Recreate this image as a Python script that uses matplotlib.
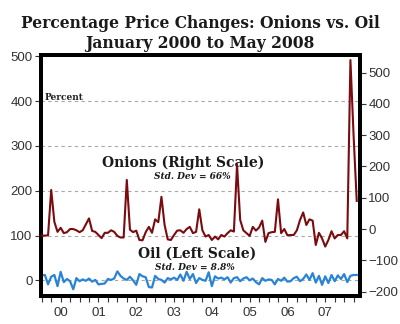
import numpy as np
import matplotlib
matplotlib.use("Agg")
import matplotlib.pyplot as plt
from matplotlib.ticker import FixedLocator, FuncFormatter

# monthly % changes, Jan 2000 .. May 2008
onions = [-21, -21, -20, 125, 23, -9, 4, -13, -10, 0, 0, -4,
          -10, -4, 15, 34, -6, -9, -19, -29, -12, -12, -4, -9,
          -22, -27, -27, 157, -2, -10, -5, -35, -36, -10, 7, -12,
          31, 22, 103, 13, -33, -35, -19, -5, -4, -12, 0, 7,
          -13, -9, 63, -4, -24, -19, -35, -24, -33, -19, -24, -13,
          -4, -8, 205, 29, -4, -13, -22, 7, -5, 5, 27, -41,
          -13, -10, -9, 95, -13, 0, -20, -19, -19, -4, 29, 53,
          13, 31, 27, -51, -12, -30, -56, -35, -7, -30, -19, -19,
          -7, -30, 540, 300, 90]

oil = [11, 12, -9, 8, 12, -13, 19, -4, 3, -2, -20, 5,
       -2, 2, -1, 4, -3, 1, -9, -8, -7, 3, 1, 4,
       20, 10, 4, 1, 8, 0, -10, 14, 9, 7, -15, -16,
       10, 3, 1, -5, 5, 2, 6, 1, 13, -1, 19, 3,
       14, -6, 5, 1, -1, 18, -13, 9, 4, 6, 2, 7,
       -5, 5, 7, -2, 4, 7, 0, 4, -4, -9, 5, -1,
       2, 1, -9, 3, -1, 6, -3, -2, 5, 8, -2, 3,
       13, 1, 16, -5, 10, -10, 9, -6, 12, -2, 11, 3,
       14, -4, 10, 12, 12]

years = list(range(2000, 2008))
year_labels = ["00", "01", "02", "03", "04", "05", "06", "07"]

x = 2000 + np.arange(len(onions)) / 12.0

serif = "DejaVu Serif"
sans = "Liberation Sans"

fig = plt.figure(figsize=(4.0, 3.24), dpi=100)
ax = fig.add_axes([0.1025, 0.0864, 0.7975, 0.7436])
ax2 = ax.twinx()

ax.set_xlim(1999.98, 2008.42)
ax.set_ylim(-35, 503)
ax2.set_ylim(-214, 556)

for g in [0, 100, 200, 300, 400]:
    ax.axhline(g, color="#a8a8a8", lw=0.8, ls=(0, (3, 3)), zorder=0)

ax.plot(x, oil, color="#2a84d6", lw=1.6, zorder=3)
ax2.plot(x, onions, color="#7a0c10", lw=1.5, zorder=3)

ax.set_yticks([0, 100, 200, 300, 400, 500])
ax2.set_yticks([-200, -100, 0, 100, 200, 300, 400, 500])

ax.xaxis.set_major_locator(FixedLocator(years + [2008]))
ax.xaxis.set_major_formatter(FuncFormatter(lambda v, p: ""))
quarters = [y + q / 4 for y in range(2000, 2009) for q in range(1, 4)]
quarters = [q for q in quarters if q < 2008.42]
ax.xaxis.set_minor_locator(FixedLocator(quarters))
ax.xaxis.set_minor_formatter(FuncFormatter(
    lambda v, p: year_labels[int(v) - 2000] if abs(v % 1 - 0.5) < 1e-6 and int(v) - 2000 < len(year_labels) else ""))

for a in (ax, ax2):
    for s in a.spines.values():
        s.set_linewidth(2.8)
        s.set_color("black")
ax.tick_params(axis="x", which="both", direction="out", length=4, width=0.8,
               labelsize=9.5, pad=4, colors="#333333")
ax.tick_params(axis="y", direction="out", length=4, width=0.8, labelsize=9.5,
               pad=2, colors="#333333")
ax2.tick_params(axis="y", direction="out", length=4, width=0.8, labelsize=9.5,
                pad=2, colors="#333333")
for lab in ax.get_xticklabels(minor=True) + ax.get_yticklabels() + ax2.get_yticklabels():
    lab.set_fontfamily(sans)

fig.text(0.5, 0.928, "Percentage Price Changes: Onions vs. Oil", ha="center", va="center",
         fontsize=11.2, fontweight="bold", family=serif, color="#1a1a1a")
fig.text(0.5, 0.866, "January 2000 to May 2008", ha="center", va="center",
         fontsize=11.2, fontweight="bold", family=serif, color="#1a1a1a")

ax.text(0.012, 0.822, "Percent", transform=ax.transAxes, ha="left", va="center",
        fontsize=6.5, fontweight="bold", family=serif, color="#222222")
ax.text(0.445, 0.552, "Onions (Right Scale)", transform=ax.transAxes, ha="center", va="center",
        fontsize=10, fontweight="bold", family=serif, color="#1a1a1a")
ax.text(0.473, 0.494, "Std. Dev = 66%", transform=ax.transAxes, ha="center", va="center",
        fontsize=6.5, fontweight="bold", style="italic", family=serif, color="#1a1a1a")
ax.text(0.489, 0.174, "Oil (Left Scale)", transform=ax.transAxes, ha="center", va="center",
        fontsize=10, fontweight="bold", family=serif, color="#1a1a1a")
ax.text(0.483, 0.120, "Std. Dev = 8.8%", transform=ax.transAxes, ha="center", va="center",
        fontsize=6.5, fontweight="bold", style="italic", family=serif, color="#1a1a1a")

fig.savefig("out.png", dpi=100)
